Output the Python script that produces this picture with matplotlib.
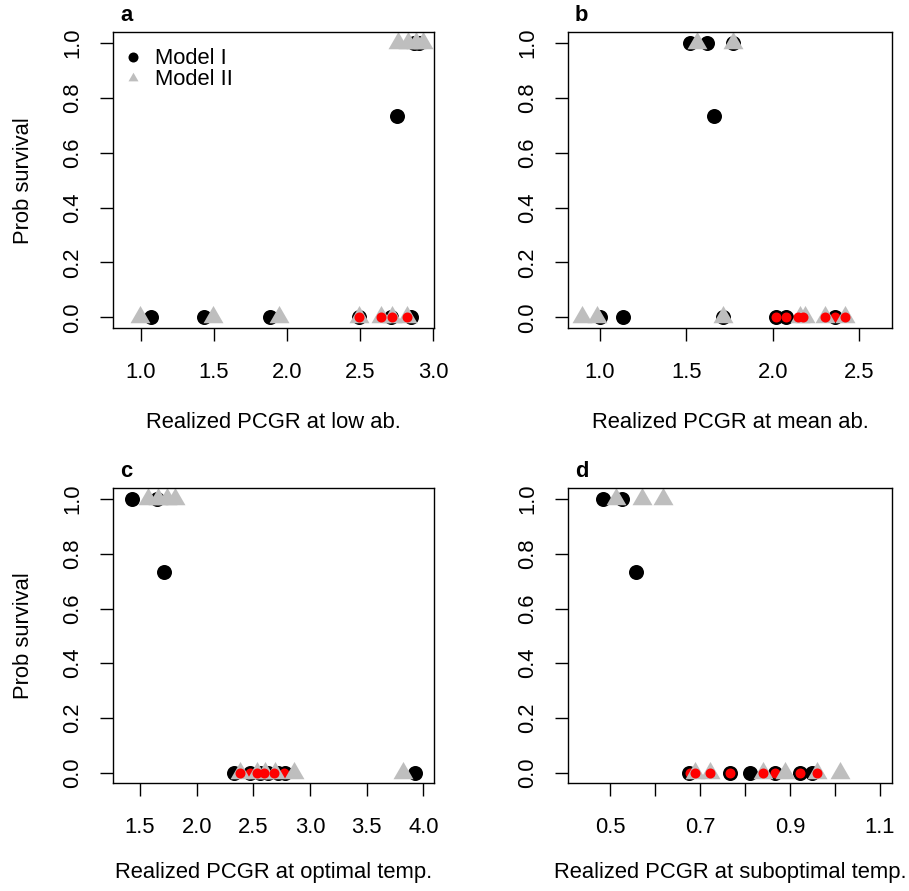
import matplotlib
matplotlib.use('Agg')
import matplotlib.pyplot as plt
from matplotlib.lines import Line2D

# Panel a: realized PCGR at low abundance
a_m1_x = [1.07, 1.43, 1.88, 2.49, 2.71, 2.85, 2.75, 2.87, 2.90]
a_m1_y = [0, 0, 0, 0, 0, 0, 0.735, 1, 1]
a_m2_x = [0.99, 1.49, 1.945, 2.49, 2.64, 2.72, 2.82, 2.76, 2.83, 2.88, 2.93]
a_m2_y = [0, 0, 0, 0, 0, 0, 0, 1, 1, 1, 1]
a_red1_x = []
a_red2_x = [2.49, 2.64, 2.72, 2.82]

# Panel b: realized PCGR at mean abundance
b_m1_x = [1.00, 1.135, 1.71, 2.02, 2.075, 2.36, 1.66, 1.52, 1.62, 1.77]
b_m1_y = [0, 0, 0, 0, 0, 0, 0.735, 1, 1, 1]
b_m2_x = [0.894, 0.984, 1.71, 2.155, 2.185, 2.30, 2.415, 1.56, 1.77]
b_m2_y = [0, 0, 0, 0, 0, 0, 0, 1, 1]
b_red1_x = [2.02, 2.075, 2.36]
b_red2_x = [2.145, 2.175, 2.30, 2.415]

# Panel c: realized PCGR at optimal temperature
c_m1_x = [2.33, 2.47, 2.56, 2.63, 2.715, 2.775, 3.93, 1.71, 1.43, 1.65]
c_m1_y = [0, 0, 0, 0, 0, 0, 0, 0.735, 1, 1]
c_m2_x = [2.38, 2.53, 2.60, 2.69, 2.86, 3.82, 1.57, 1.66, 1.74, 1.81]
c_m2_y = [0, 0, 0, 0, 0, 0, 1, 1, 1, 1]
c_red1_x = [2.47, 2.77]
c_red2_x = [2.38, 2.53, 2.59, 2.68]

# Panel d: realized PCGR at suboptimal temperature
d_m1_x = [0.674, 0.767, 0.810, 0.867, 0.922, 0.949, 0.558, 0.484, 0.526]
d_m1_y = [0, 0, 0, 0, 0, 0, 0.735, 1, 1]
d_m2_x = [0.689, 0.722, 0.839, 0.888, 0.959, 1.01, 0.513, 0.571, 0.617]
d_m2_y = [0, 0, 0, 0, 0, 0, 1, 1, 1]
d_red1_x = [0.678, 0.767, 0.867, 0.922]
d_red2_x = [0.689, 0.722, 0.839, 0.959]

x_labels = ['Realized PCGR at low ab.', 'Realized PCGR at mean ab.',
            'Realized PCGR at optimal temp.', 'Realized PCGR at suboptimal temp.']
panel_letters = ['a', 'b', 'c', 'd']
x_ticks = [[1.0, 1.5, 2.0, 2.5, 3.0],
           [1.0, 1.5, 2.0, 2.5],
           [1.5, 2.0, 2.5, 3.0, 3.5, 4.0],
           [0.5, 0.6, 0.7, 0.8, 0.9, 1.0, 1.1]]
x_tick_labels = [['1.0', '1.5', '2.0', '2.5', '3.0'],
                 ['1.0', '1.5', '2.0', '2.5'],
                 ['1.5', '2.0', '2.5', '3.0', '3.5', '4.0'],
                 ['0.5', '', '0.7', '', '0.9', '', '1.1']]
x_limits = [(0.81, 3.007), (0.818, 2.687), (1.264, 4.097), (0.407, 1.126)]
y_ticks = [0.0, 0.2, 0.4, 0.6, 0.8, 1.0]
y_tick_labels = ['0.0', '0.2', '0.4', '0.6', '0.8', '1.0']

plt.rcParams['font.family'] = ['Liberation Sans', 'DejaVu Sans']
fs = 15.8
grey = '#BEBEBE'
# R-like equilateral triangle centred on its centroid
tri = [(-1.0, -0.577), (1.0, -0.577), (0.0, 1.155)]

fig = plt.figure(figsize=(9.09, 8.91), dpi=100)
positions = [[0.1246, 0.6315, 0.3532, 0.3326],
             [0.6254, 0.6315, 0.3556, 0.3326],
             [0.1246, 0.1207, 0.3532, 0.3313],
             [0.6254, 0.1207, 0.3556, 0.3313]]

panels = [(a_m1_x, a_m1_y, a_m2_x, a_m2_y, a_red1_x, a_red2_x),
          (b_m1_x, b_m1_y, b_m2_x, b_m2_y, b_red1_x, b_red2_x),
          (c_m1_x, c_m1_y, c_m2_x, c_m2_y, c_red1_x, c_red2_x),
          (d_m1_x, d_m1_y, d_m2_x, d_m2_y, d_red1_x, d_red2_x)]

for i, (m1x, m1y, m2x, m2y, r1x, r2x) in enumerate(panels):
    ax = fig.add_axes(positions[i])
    # draw order: Model I, red on Model I, Model II, red on Model II
    ax.plot(m1x, m1y, ls='none', marker='o', ms=10.8, color='black', mew=0)
    ax.plot(r1x, [0] * len(r1x), ls='none', marker='o', ms=7.2, color='red', mew=0)
    ax.plot(m2x, m2y, ls='none', marker=tri, ms=16.6, color=grey, mew=0)
    ax.plot(r2x, [0] * len(r2x), ls='none', marker='o', ms=7.2, color='red', mew=0)

    ax.set_xlim(x_limits[i])
    ax.set_ylim(-0.04, 1.04)
    ax.set_xticks(x_ticks[i])
    ax.set_xticklabels(x_tick_labels[i])
    ax.set_yticks(y_ticks)
    ax.set_yticklabels(y_tick_labels, rotation=90, va='center')
    ax.tick_params(axis='x', length=9.4, width=1.0, labelsize=fs, pad=14.5)
    ax.tick_params(axis='y', length=9.4, width=1.0, labelsize=fs, pad=12.3)
    for s in ax.spines.values():
        s.set_linewidth(1.0)

    ax.set_xlabel(x_labels[i], fontsize=fs, va='center')
    ax.xaxis.set_label_coords(0.5, -0.318 if i < 2 else -0.302)
    if i % 2 == 0:
        ax.set_ylabel('Prob survival', fontsize=fs, va='center')
        ax.yaxis.set_label_coords(-0.281, 0.5)

    ax.text(0.04, 1.056, panel_letters[i], transform=ax.transAxes, ha='center',
            va='center', fontsize=fs, fontweight='bold')

    if i == 0:
        handles = [Line2D([], [], ls='none', marker='o', ms=7.2, color='black', mew=0),
                   Line2D([], [], ls='none', marker=tri, ms=8.3, color=grey, mew=0)]
        ax.legend(handles, ['Model I', 'Model II'], loc='upper left',
                  bbox_to_anchor=(0.028, 0.945), frameon=False, fontsize=fs,
                  handlelength=1.0, handletextpad=0.5, labelspacing=0.0,
                  borderpad=0, borderaxespad=0)

fig.savefig('out.png', dpi=100)
